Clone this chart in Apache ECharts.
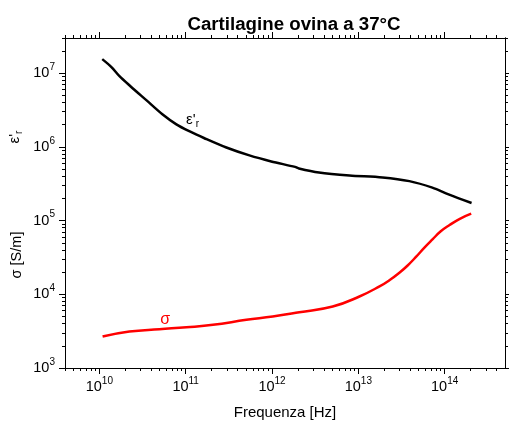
<!DOCTYPE html>
<html>
<head>
<meta charset="utf-8">
<script src="https://cdn.jsdelivr.net/npm/echarts@6/dist/echarts.min.js"></script>
<style>html,body{margin:0;padding:0;background:#fff}#c{width:509px;height:426px}</style>
</head>
<body>
<div id="c"></div>
<script>
// ---- data ----
var titleText = 'Cartilagine ovina a 37°C';
var xName = 'Frequenza [Hz]';
var epsFreq   = [1.08e10, 1.38e10, 1.71e10, 2.29e10, 3.5e10, 5.37e10, 7.8e10, 1.1e11, 1.65e11, 2.96e11, 5.47e11, 9.8e11, 1.85e12, 2.05e12, 3.5e12, 7.9e12, 1.91e13, 3.9e13, 7.2e13, 1.13e14, 2.05e14];
var epsValues = [1.55e7, 1.21e7, 9.1e6, 6.65e6, 4.3e6, 2.77e6, 2.02e6, 1.63e6, 1.31e6, 9.8e5, 7.66e5, 6.35e5, 5.35e5, 5.1e5, 4.5e5, 4.1e5, 3.85e5, 3.43e5, 2.8e5, 2.25e5, 1.73e5];
var sigFreq   = [1.09e10, 2.23e10, 4.96e10, 1.02e11, 2.07e11, 5.05e11, 1.02e12, 2.07e12, 5.05e12, 1.03e13, 1.76e13, 2.29e13, 2.99e13, 3.7e13, 4.68e13, 5.83e13, 7.28e13, 8.94e13, 1.14e14, 1.48e14, 2.03e14];
var sigValues = [2.67e3, 3.12e3, 3.36e3, 3.57e3, 3.85e3, 4.5e3, 4.99e3, 5.7e3, 6.82e3, 9.33e3, 1.28e4, 1.55e4, 1.96e4, 2.44e4, 3.24e4, 4.3e4, 5.6e4, 7.1e4, 8.7e4, 1.05e5, 1.24e5];
var xMajorTicks = [1e10, 1e11, 1e12, 1e13, 1e14];
var yMajorTicks = [1e3, 1e4, 1e5, 1e6, 1e7];
var xRange = [4e9, 5e14];
var yRange = [1e3, 3e7];
var epsLabelAt = [1.2e11, 2.3e6];
var sigLabelAt = [5.8e10, 4.5e3];

function minorTicks(lo, hi) {
  var out = [];
  for (var e = Math.floor(Math.log10(lo)); e <= Math.ceil(Math.log10(hi)); e++) {
    for (var m = 2; m <= 9; m++) {
      var v = m * Math.pow(10, e);
      if (v >= lo && v <= hi) out.push(v);
    }
  }
  return out;
}
var xMinor = minorTicks(xRange[0], xRange[1]);
var yMinor = minorTicks(yRange[0], yRange[1]);

function pairs(xs, ys) { return xs.map(function (x, i) { return [x, ys[i]]; }); }

var FONT = 'Liberation Sans, Arial, Helvetica, sans-serif';
var richPow = {
  b: { fontSize: 14.5, fontFamily: FONT, color: '#000' },
  s: { fontSize: 10, fontFamily: FONT, color: '#000', padding: [0, 0, 12, 0] }
};
function powFmt(v) {
  var e = Math.round(Math.log10(v));
  return '{b|10}{s|' + e + '}';
}

function xAx(pos, ticks, len, withLabel) {
  var a = {
    type: 'log', logBase: 10, position: pos, min: xRange[0], max: xRange[1],
    splitLine: { show: false },
    axisLine: { show: true, lineStyle: { color: '#000', width: 1 } },
    axisTick: { show: true, inside: false, length: len, customValues: ticks, lineStyle: { color: '#000', width: 1 } },
    axisLabel: { show: false }
  };
  if (withLabel) {
    a.axisLabel = { show: true, customValues: ticks, formatter: powFmt, rich: richPow, margin: 8 };
    a.name = xName; a.nameLocation = 'middle'; a.nameGap = 37;
    a.nameTextStyle = { fontSize: 15, fontFamily: FONT, color: '#000' };
  }
  return a;
}
function yAx(pos, ticks, len, withLabel) {
  var a = {
    type: 'log', logBase: 10, position: pos, min: yRange[0], max: yRange[1],
    splitLine: { show: false },
    axisLine: { show: true, lineStyle: { color: '#000', width: 1 } },
    axisTick: { show: true, inside: false, length: len, customValues: ticks, lineStyle: { color: '#000', width: 1 } },
    axisLabel: { show: false }
  };
  if (withLabel) {
    a.axisLabel = { show: true, customValues: ticks, formatter: powFmt, rich: richPow, margin: 10 };
  }
  return a;
}

var chart = echarts.init(document.getElementById('c'), null, { renderer: 'canvas' });
chart.setOption({
  animation: false,
  backgroundColor: '#fff',
  title: {
    text: titleText, left: 289, top: 10, textAlign: 'center',
    textStyle: { fontSize: 18.7, fontWeight: 'bold', fontFamily: FONT, color: '#000' }
  },
  grid: { left: 65, right: 4, top: 38, bottom: 58, containLabel: false },
  xAxis: [
    xAx('bottom', xMajorTicks, 6, true),
    xAx('bottom', xMinor, 3, false),
    xAx('top', xMajorTicks, 6, false),
    xAx('top', xMinor, 3, false)
  ],
  yAxis: [
    yAx('left', yMajorTicks, 6, true),
    yAx('left', yMinor, 3, false),
    yAx('right', yMajorTicks, 6, false),
    yAx('right', yMinor, 3, false)
  ],
  series: [
    {
      type: 'line', name: 'eps', xAxisIndex: 0, yAxisIndex: 0,
      data: pairs(epsFreq, epsValues), showSymbol: false, smooth: 0.3,
      lineStyle: { color: '#000', width: 2.5 }
    },
    {
      type: 'line', name: 'sigma', xAxisIndex: 0, yAxisIndex: 0,
      data: pairs(sigFreq, sigValues), showSymbol: false, smooth: 0.45,
      lineStyle: { color: '#ff0000', width: 2.5 }
    }
  ]
});

var pE = chart.convertToPixel({ xAxisIndex: 0, yAxisIndex: 0 }, epsLabelAt);
var pS = chart.convertToPixel({ xAxisIndex: 0, yAxisIndex: 0 }, sigLabelAt);

var epsRich = {
  a: { fontSize: 15, fontFamily: FONT, fill: '#000', color: '#000' },
  r: { fontSize: 10, fontFamily: FONT, fill: '#000', color: '#000', padding: [8, 0, 0, 0] }
};
chart.setOption({
  graphic: [
    {
      type: 'text', x: 15, y: 137, rotation: Math.PI / 2,
      style: { text: "{a|ε'}{r|r}", align: 'center', verticalAlign: 'middle', rich: epsRich }
    },
    {
      type: 'text', x: 17, y: 255, rotation: Math.PI / 2,
      style: { text: 'σ [S/m]', fontSize: 14.5, fontFamily: FONT, fill: '#000', align: 'center', verticalAlign: 'middle' }
    },
    {
      type: 'text', x: pE[0], y: pE[1],
      style: { text: "{a|ε'}{r|r}", align: 'center', verticalAlign: 'middle', rich: epsRich }
    },
    {
      type: 'text', x: pS[0], y: pS[1],
      style: { text: 'σ', fontSize: 16, fontFamily: FONT, fill: '#ff0000', align: 'center', verticalAlign: 'middle' }
    }
  ]
});
</script>
</body>
</html>
